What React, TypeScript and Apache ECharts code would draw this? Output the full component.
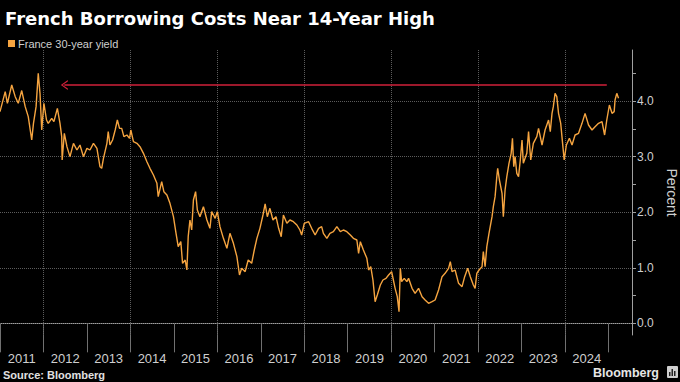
import { useEffect, useRef } from 'react';
import * as echarts from 'echarts';

// Observation dates as decimal years
const dates: number[] = [
  2011.00, 2011.12, 2011.17, 2011.27, 2011.35, 2011.42, 2011.50, 2011.58, 2011.65, 2011.73, 2011.77, 2011.83, 2011.88, 2011.92, 2011.96,
  2012.01, 2012.07, 2012.11, 2012.19, 2012.24, 2012.32, 2012.38, 2012.42, 2012.43, 2012.48, 2012.54, 2012.61, 2012.69, 2012.77, 2012.84, 2012.92,
  2013.00, 2013.07, 2013.15, 2013.23, 2013.30, 2013.34, 2013.38, 2013.46, 2013.49, 2013.53, 2013.59, 2013.65, 2013.70, 2013.75, 2013.80, 2013.85, 2013.92, 2013.98,
  2014.01, 2014.07, 2014.15, 2014.22, 2014.30, 2014.38, 2014.45, 2014.53, 2014.61, 2014.64, 2014.72, 2014.77, 2014.84, 2014.91, 2014.99,
  2015.05, 2015.10, 2015.16, 2015.20, 2015.26, 2015.30, 2015.33, 2015.37, 2015.41, 2015.45, 2015.50, 2015.54, 2015.60, 2015.68, 2015.76, 2015.83, 2015.87, 2015.95,
  2016.00, 2016.06, 2016.14, 2016.22, 2016.29, 2016.37, 2016.45, 2016.51, 2016.56, 2016.64, 2016.71, 2016.79, 2016.85, 2016.91, 2016.98,
  2017.05, 2017.10, 2017.15, 2017.21, 2017.28, 2017.35, 2017.41, 2017.47, 2017.52, 2017.60, 2017.67, 2017.75, 2017.83, 2017.90, 2017.94,
  2018.00, 2018.10, 2018.17, 2018.25, 2018.33, 2018.40, 2018.44, 2018.52, 2018.59, 2018.67, 2018.75, 2018.83, 2018.90, 2018.98,
  2019.06, 2019.13, 2019.21, 2019.25, 2019.29, 2019.36, 2019.44, 2019.48, 2019.53, 2019.58, 2019.63, 2019.68, 2019.75, 2019.81, 2019.88, 2019.94,
  2020.01, 2020.05, 2020.09, 2020.14, 2020.18, 2020.21, 2020.24, 2020.30, 2020.36, 2020.40, 2020.48, 2020.55, 2020.63, 2020.71, 2020.78, 2020.86, 2020.94,
  2021.01, 2021.09, 2021.17, 2021.24, 2021.32, 2021.36, 2021.40, 2021.47, 2021.55, 2021.63, 2021.69, 2021.76, 2021.82, 2021.89, 2021.93, 2021.97,
  2022.02, 2022.09, 2022.12, 2022.16, 2022.20, 2022.25, 2022.32, 2022.35, 2022.39, 2022.43, 2022.45, 2022.49, 2022.55, 2022.58, 2022.62, 2022.66, 2022.71, 2022.76, 2022.79, 2022.82, 2022.85, 2022.89, 2022.93, 2022.97,
  2023.01, 2023.04, 2023.12, 2023.16, 2023.21, 2023.27, 2023.35, 2023.39, 2023.47, 2023.54, 2023.62, 2023.66, 2023.70, 2023.73, 2023.77, 2023.81, 2023.85, 2023.90, 2023.95, 2023.98,
  2024.03, 2024.10, 2024.16, 2024.23, 2024.31, 2024.39, 2024.46, 2024.54, 2024.62, 2024.69, 2024.77, 2024.85, 2024.91, 2024.96,
  2025.02, 2025.08, 2025.13, 2025.15, 2025.19, 2025.23,
];

// France 30-year yield, percent
const yields: number[] = [
  3.81, 4.17, 3.96, 4.29, 4.08, 3.96, 4.19, 3.90, 3.72, 3.30, 3.60, 3.90, 4.50, 4.14, 3.48,
  3.96, 3.66, 3.60, 3.69, 3.63, 3.87, 3.60, 3.36, 2.94, 3.42, 3.18, 3.00, 3.24, 3.12, 3.21, 3.00,
  3.15, 3.12, 3.24, 3.15, 2.82, 2.79, 2.97, 3.24, 3.45, 3.21, 3.30, 3.48, 3.66, 3.51, 3.51, 3.36, 3.39, 3.33,
  3.48, 3.27, 3.24, 3.18, 3.06, 2.91, 2.79, 2.67, 2.52, 2.28, 2.55, 2.37, 2.31, 2.16, 1.92,
  1.62, 1.38, 1.47, 1.08, 1.14, 0.96, 1.56, 1.86, 1.68, 2.22, 2.37, 2.04, 1.92, 2.10, 1.86, 1.71, 2.01, 1.89,
  2.01, 1.74, 1.53, 1.35, 1.62, 1.44, 1.20, 0.87, 0.99, 0.93, 1.14, 1.08, 1.32, 1.53, 1.71,
  1.95, 2.15, 1.92, 2.07, 1.86, 1.92, 1.71, 1.56, 1.95, 1.80, 1.86, 1.83, 1.77, 1.68, 1.59,
  1.80, 1.83, 1.71, 1.59, 1.71, 1.74, 1.62, 1.53, 1.62, 1.65, 1.74, 1.65, 1.68, 1.65,
  1.59, 1.53, 1.50, 1.26, 1.47, 1.32, 1.17, 0.96, 1.02, 0.78, 0.39, 0.51, 0.69, 0.78, 0.81, 0.87,
  0.93, 0.78, 0.63, 0.48, 0.21, 0.99, 0.75, 0.81, 0.75, 0.81, 0.63, 0.54, 0.63, 0.48, 0.42, 0.36, 0.39,
  0.42, 0.60, 0.84, 0.90, 0.99, 1.11, 0.93, 0.96, 0.72, 0.66, 0.84, 0.99, 0.84, 0.69, 0.63, 0.90,
  0.96, 1.02, 1.29, 1.02, 1.38, 1.62, 1.92, 2.10, 2.28, 2.64, 2.79, 2.58, 2.34, 1.92, 2.40, 2.64, 2.88, 3.06, 3.33, 2.82, 3.00, 2.70, 2.64, 2.94,
  3.30, 2.88, 3.06, 3.45, 2.94, 3.24, 3.36, 3.51, 3.21, 3.48, 3.66, 3.45, 3.78, 3.90, 4.14, 4.08, 3.78, 3.60, 3.18, 2.94,
  3.21, 3.33, 3.21, 3.39, 3.42, 3.60, 3.78, 3.57, 3.48, 3.54, 3.60, 3.63, 3.39, 3.66,
  3.93, 3.78, 3.81, 4.02, 4.14, 4.05,
];

const yearLabels: number[] = [2011, 2012, 2013, 2014, 2015, 2016, 2017, 2018, 2019, 2020, 2021, 2022, 2023, 2024];
const yearTicks: number[] = [2011, 2012, 2013, 2014, 2015, 2016, 2017, 2018, 2019, 2020, 2021, 2022, 2023, 2024, 2025];
const gridYears: number[] = [2012, 2014, 2016, 2018, 2020, 2022, 2024];
const yLabelValues: number[] = [0, 1, 2, 3, 4];
const yTickValues: number[] = [0, 0.5, 1, 1.5, 2, 2.5, 3, 3.5, 4, 4.5];
const xRange: number[] = [2011, 2025.54];
const yRange: number[] = [-0.21, 4.92];
const arrowStart: number[] = [2012.48, 4.29];
const arrowEnd: number[] = [2024.96, 4.29];

const SERIES_NAME = 'France 30-year yield';
const ORANGE = '#f5a440';
const FONT = 'Liberation Sans, Arial, sans-serif';
const TITLE_FONT = 'DejaVu Sans, Verdana, sans-serif';
const GRID_STYLE = { color: '#5c5c5c', type: 'dotted', width: 1 };

export default function App() {
  const ref = useRef<HTMLDivElement>(null);

  useEffect(() => {
    document.body.style.margin = '0';
    document.body.style.background = '#000';
    const chart = echarts.init(ref.current!, null, { renderer: 'svg' });
    const lineData = dates.map((d, i) => [d, yields[i]]);

    const gridMarks: any[] = [
      ...yLabelValues.map((v) => ({ yAxis: v, symbol: 'none', lineStyle: GRID_STYLE })),
      ...gridYears.map((v) => ({ xAxis: v, symbol: 'none', lineStyle: GRID_STYLE })),
    ];

    chart.setOption({
      animation: false,
      backgroundColor: '#000',
      textStyle: { fontFamily: FONT },
      title: {
        text: 'French Borrowing Costs Near 14-Year High',
        left: 0,
        top: 4,
        textStyle: { color: '#ffffff', fontSize: 18, fontWeight: 'bold', fontFamily: TITLE_FONT },
      },
      legend: {
        show: true,
        data: [SERIES_NAME],
        left: 3,
        top: 33,
        icon: 'rect',
        itemWidth: 7,
        itemHeight: 7,
        itemGap: 4,
        textStyle: { color: '#cfcfcf', fontSize: 11, fontFamily: FONT, padding: [0, 0, 0, -2] },
      },
      grid: {
        left: 0,
        right: 48,
        top: 50,
        bottom: 47,
        containLabel: false,
        outerBoundsMode: 'none',
      },
      xAxis: {
        type: 'value',
        min: xRange[0],
        max: xRange[1],
        interval: 1,
        axisLine: { show: true, lineStyle: { color: '#a0a0a0', width: 1 } },
        axisTick: {
          show: true,
          length: 29,
          customValues: yearTicks,
          lineStyle: { color: '#707070', width: 1 },
        },
        axisLabel: {
          show: true,
          customValues: yearLabels,
          formatter: (v: number) => String(Math.round(v)),
          color: '#cfcfcf',
          fontSize: 13,
          fontFamily: FONT,
          margin: 17,
          align: 'center',
          padding: [0, 0, 0, 43.4],
        },
        splitLine: { show: false },
      },
      yAxis: {
        type: 'value',
        position: 'right',
        min: yRange[0],
        max: yRange[1],
        name: 'Percent',
        nameLocation: 'middle',
        nameRotate: -90,
        nameGap: 32,
        nameTextStyle: { color: '#cfcfcf', fontSize: 14, fontFamily: FONT },
        axisLine: { show: true, lineStyle: { color: '#a0a0a0', width: 1 } },
        axisTick: {
          show: true,
          length: 4,
          customValues: yTickValues,
          lineStyle: { color: '#a0a0a0', width: 1 },
        },
        axisLabel: {
          show: true,
          customValues: yLabelValues,
          formatter: (v: number) => v.toFixed(1),
          color: '#cfcfcf',
          fontSize: 12,
          fontFamily: FONT,
          margin: 5,
        },
        splitLine: { show: false },
      },
      series: [
        {
          name: SERIES_NAME,
          type: 'line',
          data: lineData,
          showSymbol: false,
          symbol: 'none',
          z: 3,
          color: ORANGE,
          lineStyle: { color: ORANGE, width: 1.4 },
          markLine: {
            silent: true,
            z: 2,
            label: { show: false },
            symbol: ['path://M0,10 L5,0 L10,10 L8.4,10 L5,2.6 L1.6,10 Z', 'none'],
            symbolSize: [10, 7],
            lineStyle: { color: '#d0213a', type: 'solid', width: 1.5 },
            data: [...gridMarks, [{ coord: arrowStart }, { coord: arrowEnd }]],
          },
        },
      ],
      graphic: [
        {
          type: 'text',
          left: 3,
          top: 369,
          style: { text: 'Source: Bloomberg', fill: '#e0e0e0', font: `bold 11px ${FONT}` },
        },
        {
          type: 'text',
          right: 21,
          top: 366,
          style: { text: 'Bloomberg', fill: '#e6e6e6', font: `bold 12.5px ${FONT}` },
        },
        {
          type: 'group',
          right: 2,
          top: 366,
          children: [
            { type: 'rect', shape: { x: 0, y: 0, width: 11, height: 12, r: 1 }, style: { fill: '#cfcfcf' } },
            { type: 'rect', shape: { x: 2, y: 6, width: 1.5, height: 4 }, style: { fill: '#222' } },
            { type: 'rect', shape: { x: 4.5, y: 3, width: 1.5, height: 7 }, style: { fill: '#222' } },
            { type: 'rect', shape: { x: 7, y: 5, width: 1.5, height: 5 }, style: { fill: '#222' } },
          ],
        },
      ],
    });

    return () => chart.dispose();
  }, []);

  return <div ref={ref} style={{ width: 680, height: 382, background: '#000' }} />;
}
